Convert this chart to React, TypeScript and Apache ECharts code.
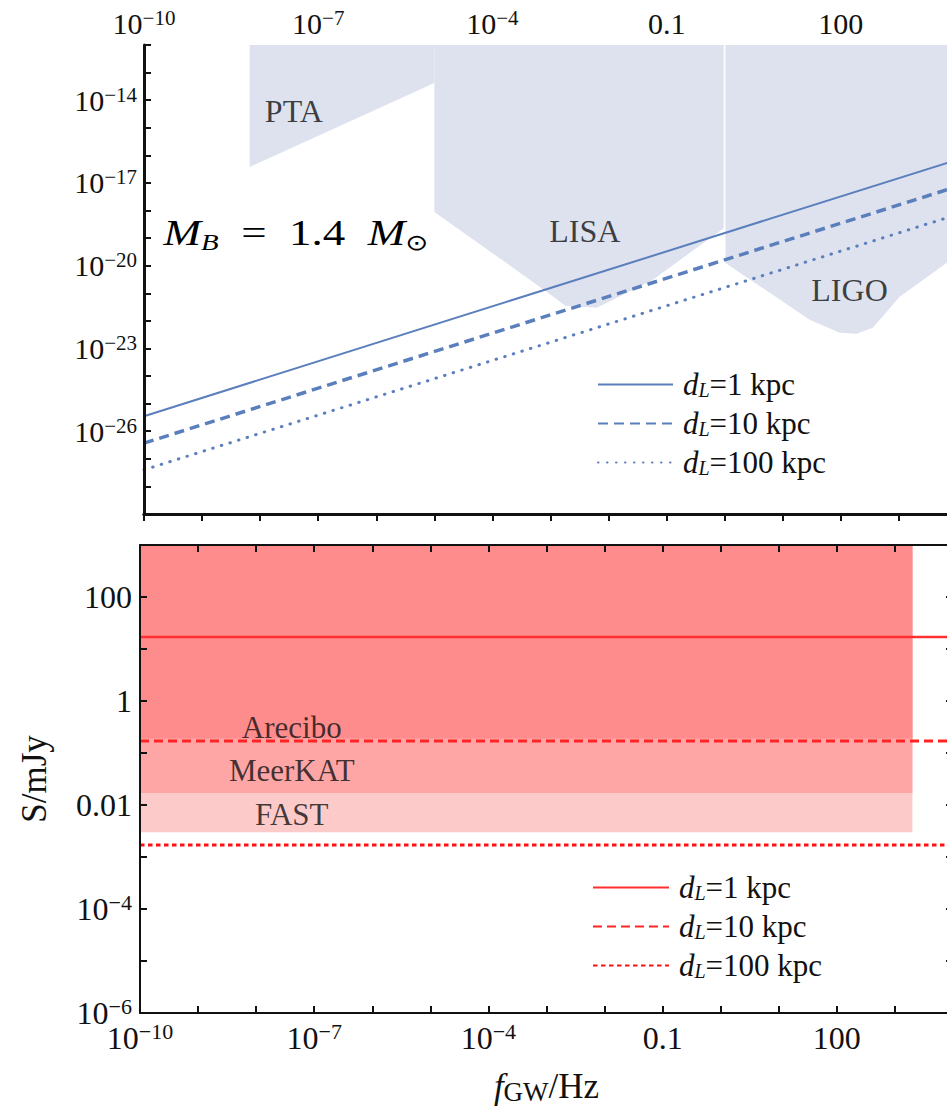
import React, { useEffect, useRef } from "react";
import * as echarts from "echarts";

const SERIF = "Liberation Serif";

// ---------- axes ----------
const freqRange = [1e-10, 1e4];
const freqTickExp = [-10, -7, -4, -1, 2];
const freqTickText = ["10^−10", "10^−7", "10^−4", "0.1", "100"];

const strainRange = [1e-29, 1e-12];
const strainTickExp = [-29, -26, -23, -20, -17, -14];
const strainTickText = ["10^−29", "10^−26", "10^−23", "10^−20", "10^−17", "10^−14"];

const fluxRange = [1e-6, 1e3];
const fluxTickExp = [-6, -4, -2, 0, 2];
const fluxTickText = ["10^−6", "10^−4", "0.01", "1", "100"];

// ---------- series ----------
const distancesKpc = [1, 10, 100];
const lineFreq = [1e-10, 1e4];
const strain1kpc = [3.5e-26, 6.9e-17];
const strain10kpc = [3.7e-27, 7.4e-18];
const strain100kpc = [4.0e-28, 7.1e-19];
const fluxByDistance = [17, 0.17, 0.0017];

// detector sensitivity regions (vertices)
const ptaFreq = [6.6e-9, 6.6e-9, 1e-5, 1e-5];
const ptaStrain = [1e-12, 3.8e-17, 4.2e-14, 1e-12];
const lisaFreq = [1e-5, 1e-5, 7.9e-4, 1.8e-3, 6.3e-3, 5.8e-2, 0.96, 0.96];
const lisaStrain = [1e-12, 8.9e-19, 1.3e-21, 3.5e-22, 3.0e-22, 3.1e-21, 2.3e-19, 1e-12];
const ligoFreq = [1.03, 1.03, 29, 95, 186, 355, 1020, 6600, 1e4, 1e4];
const ligoStrain = [1e-12, 1.26e-20, 1.1e-22, 3.7e-23, 3.4e-23, 5.6e-23, 7.4e-22, 1.26e-20, 3.2e-20, 1e-12];

// radio survey sensitivity bands
const surveyNames = ["FAST", "MeerKAT", "Arecibo"];
const surveyMinFlux = [0.003, 0.017, 0.19];
const surveyFreqLimits = [1e-10, 2000];
const surveyMaxFlux = 1e3;

// annotation positions [f, value]
const detectorLabels = ["PTA", "LISA", "LIGO"];
const detectorLabelFreq = [3.8e-8, 3.9e-3, 141];
const detectorLabelStrain = [4.1e-15, 1.8e-19, 1.3e-21];
const massLabelPos = [4.13e-8, 1.56e-19];
const surveyLabelFreq = [4.1e-8, 4.1e-8, 4.1e-8];
const surveyLabelFlux = [0.0065, 0.047, 0.316];

// ---------- styles ----------
const BLUE = "#5b7fbd";
const REGION = "#dde2ee";
const SURVEY_COLORS = ["#fdcaca", "#fea6a6", "#ff8c8c"];
const RED = ["#ff3030", "#ff2424", "#ff1010"];

const rt = (s: string) => {
  const i = s.indexOf("^");
  return i < 0 ? `{b|${s}}` : `{b|${s.slice(0, i)}}{s|${s.slice(i + 1)}}`;
};
const tickFormatter = (exps: number[], texts: string[]) => (v: number) => {
  const e = Math.round(Math.log10(v));
  const k = exps.indexOf(e);
  return k < 0 ? "" : rt(texts[k]);
};

const richTop = {
  b: { fontFamily: SERIF, fontSize: 30, lineHeight: 32, color: "#111" },
  s: { fontFamily: SERIF, fontSize: 21, lineHeight: 18, verticalAlign: "top", color: "#111" },
};
const richBottom = {
  b: { fontFamily: SERIF, fontSize: 32, lineHeight: 35, color: "#111" },
  s: { fontFamily: SERIF, fontSize: 22, lineHeight: 22, verticalAlign: "top", color: "#111" },
};
const legendRich = {
  i: { fontFamily: SERIF, fontStyle: "italic", fontSize: 31, lineHeight: 30, padding: [0, 0, 0, 5], color: "#111" },
  s: { fontFamily: SERIF, fontStyle: "italic", fontSize: 20, lineHeight: 14, verticalAlign: "bottom", color: "#111" },
  t: { fontFamily: SERIF, fontSize: 31, lineHeight: 30, color: "#111" },
};

const logAxisBase = (lineWidth: number) => ({
  type: "log",
  logBase: 10,
  interval: 1,
  z: 10,
  splitLine: { show: false },
  axisLine: { show: true, lineStyle: { color: "#111", width: lineWidth } },
  axisTick: { show: true, inside: true, length: 7, lineStyle: { color: "#111", width: 2 } },
  minorTick: { show: false },
});

export default function App() {
  const ref = useRef<HTMLDivElement>(null);

  useEffect(() => {
    if (!ref.current) return;
    const chart = echarts.init(ref.current, undefined, { renderer: "svg" });

    const strainSets = [strain1kpc, strain10kpc, strain100kpc];
    const strainLineStyles: any[] = [
      { width: 2, type: "solid" },
      { width: 3.5, type: [10, 6] },
      { width: 3, type: [0.5, 8.5], cap: "round" },
    ];
    const fluxLineStyles: any[] = [
      { width: 2.5, type: "solid" },
      { width: 3, type: [9, 5] },
      { width: 3, type: [4.5, 3.5] },
    ];

    const polygon = (fs: number[], hs: number[]) => ({
      type: "custom",
      xAxisIndex: 0,
      yAxisIndex: 0,
      silent: true,
      clip: true,
      data: [[fs[0], hs[0]]],
      renderItem: (_p: any, api: any) => ({
        type: "polygon",
        shape: { points: fs.map((f, i) => api.coord([f, hs[i]])) },
        style: { fill: REGION },
      }),
    });

    const legendFormatter = (name: string) => `{i|d}{s|L}{t|=${name.split("-")[1]} kpc}`;

    const option: any = {
      animation: false,
      backgroundColor: "#fff",
      grid: [
        { left: 144, top: 45, width: 813, height: 469, outerBoundsMode: "none" },
        { left: 140, top: 545, width: 813, height: 468, outerBoundsMode: "none" },
      ],
      xAxis: [
        {
          ...logAxisBase(3),
          gridIndex: 0,
          position: "top",
          min: freqRange[0],
          max: freqRange[1],
          axisLabel: { show: true, margin: 6, formatter: tickFormatter(freqTickExp, freqTickText), rich: richTop, showMinLabel: true },
        },
        {
          ...logAxisBase(3),
          gridIndex: 0,
          position: "bottom",
          min: freqRange[0],
          max: freqRange[1],
          axisTick: { show: false },
          axisLabel: { show: false },
        },
        {
          ...logAxisBase(2),
          gridIndex: 1,
          position: "bottom",
          min: freqRange[0],
          max: freqRange[1],
          axisLabel: { show: true, margin: 7, formatter: tickFormatter(freqTickExp, freqTickText), rich: richBottom, showMinLabel: true },
          name: "{i|f}{s|GW}{t|/Hz}",
          nameLocation: "middle",
          nameGap: 54,
          nameTextStyle: {
            rich: {
              i: { fontFamily: SERIF, fontStyle: "italic", fontSize: 35, lineHeight: 38, color: "#111" },
              s: { fontFamily: SERIF, fontSize: 27, lineHeight: 23, verticalAlign: "bottom", color: "#111" },
              t: { fontFamily: SERIF, fontSize: 35, lineHeight: 38, color: "#111" },
            },
          },
        },
        {
          ...logAxisBase(2),
          gridIndex: 1,
          position: "top",
          min: freqRange[0],
          max: freqRange[1],
          axisLabel: { show: false },
        },
      ],
      yAxis: [
        {
          ...logAxisBase(3),
          gridIndex: 0,
          position: "left",
          min: strainRange[0],
          max: strainRange[1],
          axisLabel: { show: true, margin: 7, formatter: tickFormatter(strainTickExp, strainTickText), rich: richTop, showMinLabel: true },
          name: "h",
          nameLocation: "middle",
          nameRotate: 90,
          nameGap: 94,
          nameTextStyle: { fontFamily: SERIF, fontStyle: "italic", fontSize: 42, color: "#333" },
        },
        {
          ...logAxisBase(2),
          gridIndex: 1,
          position: "left",
          min: fluxRange[0],
          max: fluxRange[1],
          axisLabel: { show: true, margin: 8, formatter: tickFormatter(fluxTickExp, fluxTickText), rich: richBottom, showMinLabel: true },
          name: "S/mJy",
          nameLocation: "middle",
          nameRotate: 90,
          nameGap: 88,
          nameTextStyle: { fontFamily: SERIF, fontSize: 35, color: "#111" },
        },
        {
          ...logAxisBase(2),
          gridIndex: 1,
          position: "right",
          min: fluxRange[0],
          max: fluxRange[1],
          axisLabel: { show: false },
        },
      ],
      legend: [
        {
          data: distancesKpc.map((d) => `strain-${d}`),
          orient: "vertical",
          left: 592,
          top: 364,
          itemWidth: 75,
          itemHeight: 14,
          itemGap: 8,
          selectedMode: false,
          formatter: legendFormatter,
          textStyle: { fontFamily: SERIF, fontSize: 31, rich: legendRich },
          itemStyle: { opacity: 0 },
        },
        {
          data: distancesKpc.map((d) => `flux-${d}`),
          orient: "vertical",
          left: 587,
          top: 867,
          itemWidth: 76,
          itemHeight: 14,
          itemGap: 8,
          selectedMode: false,
          formatter: legendFormatter,
          textStyle: { fontFamily: SERIF, fontSize: 31, rich: legendRich },
          itemStyle: { opacity: 0 },
        },
      ],
      series: [
        polygon(ptaFreq, ptaStrain),
        polygon(lisaFreq, lisaStrain),
        polygon(ligoFreq, ligoStrain),
        ...distancesKpc.map((d, k) => ({
          type: "line",
          name: `strain-${d}`,
          xAxisIndex: 0,
          yAxisIndex: 0,
          symbol: "none",
          showSymbol: false,
          silent: true,
          color: BLUE,
          lineStyle: { color: BLUE, ...strainLineStyles[k] },
          data: lineFreq.map((f, i) => [f, strainSets[k][i]]),
        })),
        {
          type: "scatter",
          xAxisIndex: 0,
          yAxisIndex: 0,
          symbolSize: 0,
          silent: true,
          data: detectorLabels.map((t, i) => [detectorLabelFreq[i], detectorLabelStrain[i], t]),
          label: {
            show: true,
            position: "inside",
            formatter: (p: any) => p.data[2],
            fontFamily: SERIF,
            fontSize: 32,
            color: "#111",
          },
        },
        {
          type: "custom",
          xAxisIndex: 0,
          yAxisIndex: 0,
          silent: true,
          data: [massLabelPos],
          renderItem: (_p: any, api: any) => {
            const pt = api.coord([api.value(0), api.value(1)]);
            return {
              type: "text",
              x: pt[0],
              y: pt[1],
              scaleX: 1.25,
              style: {
                text: "{m|M}{sb|B}{t|  =  1.4  }{m|M}{sun|⊙}",
                align: "center",
                verticalAlign: "middle",
                fill: "#000",
                rich: {
                  m: { fontFamily: SERIF, fontStyle: "italic", fontSize: 36, lineHeight: 42, fill: "#000" },
                  t: { fontFamily: SERIF, fontSize: 36, lineHeight: 42, fill: "#000" },
                  sb: { fontFamily: SERIF, fontStyle: "italic", fontSize: 23, lineHeight: 13.5, verticalAlign: "bottom", fill: "#000" },
                  sun: { fontFamily: "DejaVu Sans", fontSize: 22, lineHeight: 12, verticalAlign: "bottom", fill: "#000" },
                },
              },
            };
          },
        },
        // bottom panel
        ...surveyNames.map((n, k) => ({
          type: "custom",
          name: n,
          xAxisIndex: 2,
          yAxisIndex: 1,
          silent: true,
          clip: true,
          data: [[surveyFreqLimits[0], surveyMinFlux[k], surveyFreqLimits[1], surveyMaxFlux]],
          renderItem: (_p: any, api: any) => {
            const a = api.coord([api.value(0), api.value(3)]);
            const b = api.coord([api.value(2), api.value(1)]);
            return {
              type: "rect",
              shape: { x: a[0], y: a[1], width: b[0] - a[0], height: b[1] - a[1] },
              style: { fill: SURVEY_COLORS[k] },
            };
          },
        })),
        ...distancesKpc.map((d, k) => ({
          type: "line",
          name: `flux-${d}`,
          xAxisIndex: 2,
          yAxisIndex: 1,
          symbol: "none",
          showSymbol: false,
          silent: true,
          color: RED[k],
          lineStyle: { color: RED[k], ...fluxLineStyles[k] },
          data: lineFreq.map((f) => [f, fluxByDistance[k]]),
        })),
        {
          type: "scatter",
          xAxisIndex: 2,
          yAxisIndex: 1,
          symbolSize: 0,
          silent: true,
          data: surveyNames.map((t, i) => [surveyLabelFreq[i], surveyLabelFlux[i], t]),
          label: {
            show: true,
            position: "inside",
            formatter: (p: any) => p.data[2],
            fontFamily: SERIF,
            fontSize: 31,
            color: "#111",
          },
        },
      ],
    };

    chart.setOption(option);
    return () => chart.dispose();
  }, []);

  return (
    <div style={{ position: "fixed", left: 0, top: 0, width: 947, height: 1107, overflow: "hidden", background: "#fff" }}>
      <div ref={ref} style={{ width: 1000, height: 1107 }} />
    </div>
  );
}
